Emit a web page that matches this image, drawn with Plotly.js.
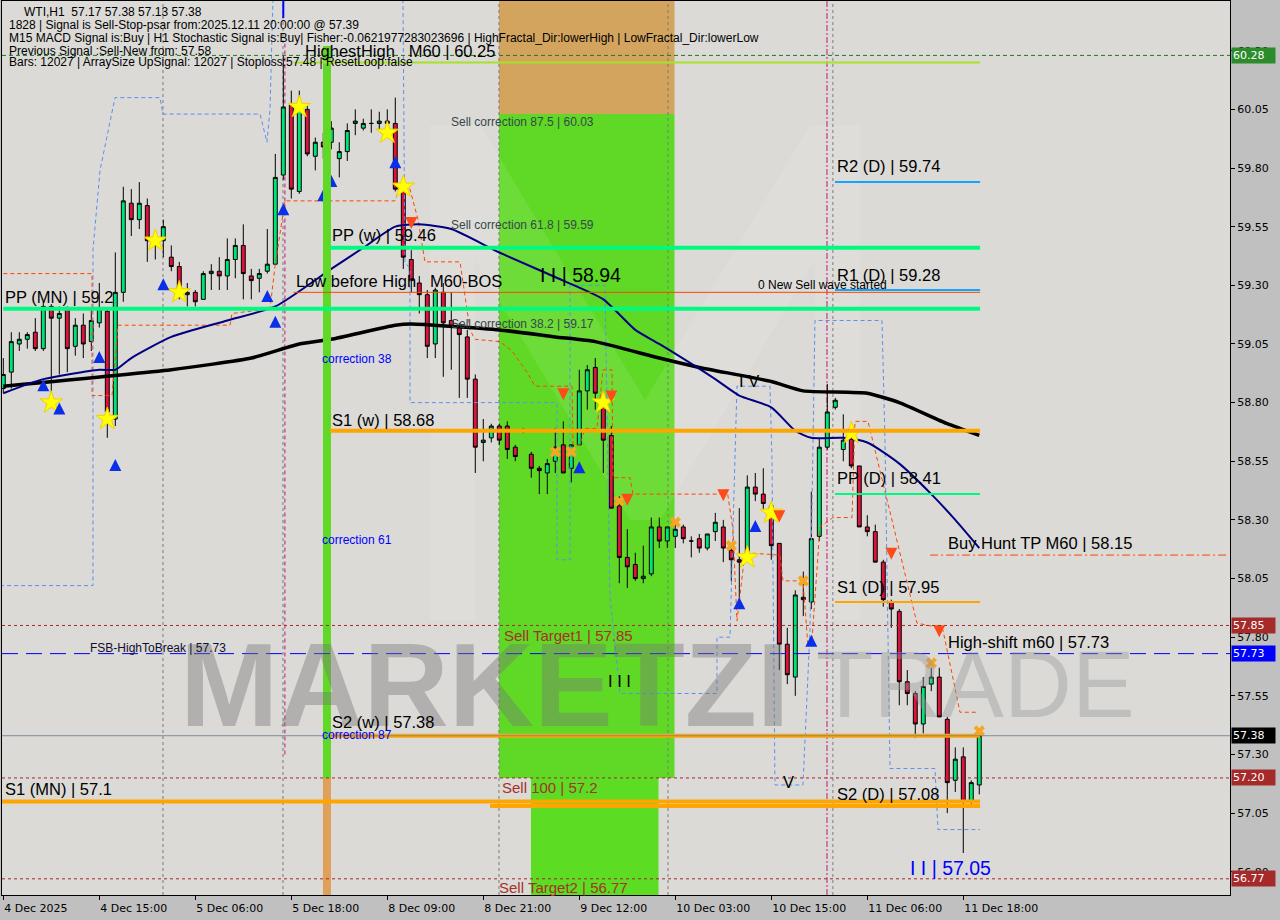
<!DOCTYPE html>
<html>
<head>
<meta charset="utf-8">
<script src="https://cdn.plot.ly/plotly-3.0.1.min.js"></script>
<style>
html,body{margin:0;padding:0;background:#c0c0c0;}
#chart{width:1280px;height:920px;}
</style>
</head>
<body>
<div id="chart"></div>
<script>
// ---------- DATA ----------
const barOpen = [58.86,58.93,59.05,59.07,59.10,59.03,59.21,59.16,59.20,59.04,59.13,59.06,59.14,59.19,58.73,59.27,59.65,59.58,59.64,59.49,
59.49,59.42,59.38,59.26,59.27,59.24,59.35,59.36,59.34,59.41,59.47,59.34,59.33,59.36,59.39,59.77,60.07,59.70,60.05,59.85,
59.91,59.91,59.84,59.87,59.99,59.97,59.99,59.99,60.00,59.99,59.72,59.41,59.31,59.26,59.05,59.27,59.15,59.12,59.08,58.90,
58.63,58.65,58.70,58.70,58.61,58.68,58.58,58.52,58.50,58.55,58.62,58.52,58.62,58.85,58.95,58.78,58.66,58.36,58.14,58.11,
58.05,58.07,58.27,58.21,58.23,58.27,58.21,58.22,58.18,58.25,58.27,58.17,58.13,58.15,58.44,58.41,58.36,58.20,57.77,57.63,
57.97,57.95,58.23,58.61,58.78,58.60,58.65,58.53,58.27,58.25,58.12,57.95,57.91,57.61,57.56,57.43,57.60,57.63,57.45,57.19,
57.29,57.10,57.17];
const barHigh = [58.99,59.10,59.10,59.10,59.16,59.23,59.22,59.21,59.21,59.16,59.18,59.20,59.31,59.20,59.44,59.72,59.71,59.74,59.67,59.51,
59.58,59.47,59.40,59.31,59.28,59.36,59.39,59.42,59.50,59.50,59.56,59.37,59.37,59.54,59.86,60.28,60.13,60.13,60.07,59.93,
59.95,60.00,59.91,59.99,60.05,60.01,60.05,60.04,60.05,60.10,59.72,59.45,59.34,59.28,59.29,59.31,59.27,59.14,59.11,58.92,
58.73,58.71,58.71,58.72,58.62,58.69,58.59,58.53,58.56,58.69,58.72,58.62,58.94,58.96,58.99,58.85,58.70,58.40,58.26,58.16,
58.19,58.31,58.31,58.27,58.30,58.28,58.23,58.24,58.24,58.33,58.30,58.19,58.35,58.49,58.50,58.52,58.37,58.20,57.84,58.00,
58.08,58.42,58.65,58.88,58.82,58.75,58.66,58.53,58.32,58.28,58.13,57.96,57.92,57.66,57.57,57.63,57.67,57.67,57.46,57.33,
57.33,57.19,57.38];
const barLow = [58.84,58.86,59.02,59.03,59.02,59.02,58.81,58.92,58.93,59.00,58.99,59.02,59.12,58.65,58.70,59.23,59.51,59.54,59.40,59.41,
59.42,59.36,59.24,59.21,59.21,59.24,59.28,59.28,59.28,59.33,59.24,59.24,59.27,59.35,59.39,59.75,59.67,59.69,59.85,59.79,
59.84,59.88,59.76,59.83,59.94,59.96,59.95,59.96,59.95,59.70,59.37,59.27,59.18,58.99,58.99,58.91,58.94,58.82,58.82,58.50,
58.55,58.63,58.62,58.56,58.55,58.67,58.48,58.41,58.41,58.50,58.50,58.46,58.62,58.77,58.77,58.50,58.35,58.03,58.01,58.04,
58.03,58.06,58.18,58.18,58.18,58.20,58.14,58.16,58.17,58.21,58.12,58.04,57.92,58.15,58.38,58.34,58.13,57.66,57.60,57.55,
57.89,57.92,58.21,58.60,58.77,58.55,58.52,58.27,58.23,58.12,57.93,57.84,57.51,57.51,57.37,57.39,57.57,57.46,57.05,57.14,
56.88,57.08,57.13];
const barClose = [58.92,59.06,59.07,59.09,59.03,59.21,59.16,59.18,59.03,59.13,59.05,59.15,59.20,58.76,59.27,59.66,59.58,59.65,59.49,59.47,
59.55,59.38,59.27,59.27,59.23,59.35,59.36,59.34,59.41,59.47,59.35,59.32,59.35,59.39,59.76,60.06,59.71,60.05,59.86,59.91,
59.89,59.97,59.87,59.96,60.00,59.99,59.99,60.00,59.99,59.71,59.42,59.32,59.26,59.04,59.28,59.14,59.12,59.09,58.90,58.61,
58.64,58.70,58.64,58.60,58.57,58.68,58.52,58.51,58.54,58.61,58.50,58.62,58.85,58.94,58.84,58.64,58.35,58.14,58.10,58.05,
58.06,58.27,58.21,58.27,58.26,58.22,58.21,58.18,58.24,58.29,58.18,58.13,58.12,58.44,58.41,58.37,58.19,57.77,57.64,57.98,
57.96,58.22,58.61,58.76,58.81,58.64,58.53,58.27,58.25,58.12,57.96,57.92,57.61,57.56,57.43,57.59,57.63,57.46,57.18,57.28,
57.10,57.18,57.38];

// moving averages (bar index, price)
const maSlowIdx = [0,21,31,37,41,49,51,62,69,74,82,87,96,100,108,112,118,122];
const maSlowVal = [58.87,58.94,58.99,59.05,59.07,59.13,59.135,59.11,59.08,59.06,58.99,58.95,58.89,58.85,58.84,58.80,58.71,58.66];
const maFastIdx = [0,5,12,14,16,21,28,34,41,45,49,52,56,62,70,75,79,82,89,92,96,99,101,105,108,112,116,119,122];
const maFastVal = [58.84,58.90,58.94,58.94,58.99,59.08,59.15,59.21,59.37,59.46,59.55,59.56,59.54,59.44,59.32,59.24,59.11,59.05,58.90,58.83,58.78,58.68,58.65,58.65,58.63,58.54,58.41,58.30,58.18];

// stepped stop line (red dashed)
const stopIdx = [0,11.09,11.09,13.59,14.34,28.34,28.59,33.34,33.96,34.84,35.21,48.96,49.59,50.84,51.84,52.71,57.09,58.34,58.96,62.09,63.59,65.46,66.46,71.09,71.21,72.09,72.71,74.21,74.96,76.09,76.21,78.34,78.71,89.59,90.46,91.21,91.71,92.71,97.09,97.46,99.96,100.59,101.09,102.09,103.71,106.09,106.46,108.09,109.59,114.21,117.09,117.46,119.59,121.71];
const stopVal = [59.35,59.35,58.83,58.83,59.13,59.13,59.18,59.20,59.38,59.58,59.66,59.66,59.72,59.71,59.58,59.40,59.40,59.11,59.07,59.06,59.02,58.93,58.87,58.87,58.62,58.62,58.69,58.69,58.94,58.94,58.48,58.48,58.41,58.41,58.43,58.26,57.87,58.16,58.15,58.04,58.04,57.76,57.79,58.27,58.31,58.31,58.72,58.72,58.51,57.86,57.84,57.83,57.48,57.48];

// fractal channel (blue dashed)
const chanIdx = [-0.4,11.21,11.21,12.09,13.96,19.59,19.96,32.09,32.96,33.34,33.71,null,49.96,50.21,50.84,50.84,69.21,69.21,70.84,70.84,75.21,75.84,76.09,77.09,89.21,89.21,90.84,91.71,95.84,96.09,96.46,98.34,99.96,100.84,101.46,109.84,110.21,110.84,116.46,116.84,122.09];
const chanVal = [58.02,58.02,59.45,59.79,60.10,60.10,60.03,60.03,59.91,60.05,60.52,null,60.52,59.40,59.37,58.80,58.80,58.13,58.13,59.30,59.30,57.97,57.89,57.56,57.56,57.80,57.80,58.87,58.87,58.55,57.17,57.17,57.17,57.83,59.15,59.15,58.64,57.24,57.24,56.98,56.98];

// signal markers
const starIdx = [6,13,19,22,37,48,50,75,93,96,106];
const starVal = [58.80,58.73,59.49,59.27,60.06,59.95,59.72,58.80,58.14,58.33,58.67];
const upIdx = [5,7,12,14,20,33,34,35,40,41,49,72,92,94,101];
const upVal = [58.90,58.80,59.02,58.56,59.33,59.28,59.17,59.65,59.71,59.77,59.85,58.55,57.97,58.30,57.81];
const downIdx = [51,70,76,78,90,97,111,117];
const downVal = [59.54,58.81,58.80,58.36,58.38,58.29,58.13,57.80];
const crossIdx = [69,71,77,84,91,100,116,122];
const crossVal = [58.59,58.59,58.38,58.29,58.19,58.04,57.69,57.40];

// axis ticks
const timeTickIdx = [0,12,24,36,48,60,72,84,96,108,120];
const timeTickText = ["4 Dec 2025","4 Dec 15:00","5 Dec 06:00","5 Dec 18:00","8 Dec 09:00","8 Dec 21:00","9 Dec 12:00","10 Dec 03:00","10 Dec 15:00","11 Dec 06:00","11 Dec 18:00"];
const priceTicks = [56.80,57.05,57.30,57.55,57.80,58.05,58.30,58.55,58.80,59.05,59.30,59.55,59.80,60.05,60.30];

// levels
const lvlHighestHigh = 60.25, lvlTop = 60.28, lvlSell875 = 60.03, lvlSell618 = 59.59, lvlSell382 = 59.17;
const lvlR2D = 59.74, lvlPPw = 59.46, lvlR1D = 59.28, lvlBOS = 59.27, lvlPPMN = 59.2;
const lvlS1w = 58.68, lvlPPD = 58.41, lvlBuyHunt = 58.15, lvlS1D = 57.95, lvlTarget1 = 57.85;
const lvlHighShift = 57.73, lvlS2w = 57.38, lvlLast = 57.38, lvlSell100 = 57.20, lvlS1MN = 57.1, lvlS2D = 57.08, lvlTarget2 = 56.77;

// ---------- BUILD ----------
const idx = barOpen.map((_, i) => i);
const Y0 = 56.701, Y1 = 60.512;
const lastI = 122.1;

const traces = [];
traces.push({
  type: 'candlestick', x: idx, open: barOpen, high: barHigh, low: barLow, close: barClose,
  increasing: {line: {color: '#000', width: 1}, fillcolor: '#00e676'},
  decreasing: {line: {color: '#000', width: 1}, fillcolor: '#dc143c'},
  whiskerwidth: 0, hoverinfo: 'skip', showlegend: false
});
traces.push({type:'scatter', mode:'lines', x: chanIdx, y: chanVal, line:{color:'#5b8ff0', width:1, dash:'4px,3px'}, hoverinfo:'skip', showlegend:false, connectgaps:false});
traces.push({type:'scatter', mode:'lines', x: stopIdx, y: stopVal, line:{color:'#ff4500', width:1, dash:'4px,3px'}, hoverinfo:'skip', showlegend:false});
traces.push({type:'scatter', mode:'lines', x: maSlowIdx, y: maSlowVal, line:{color:'#000', width:3.5, shape:'spline', smoothing:0.5}, hoverinfo:'skip', showlegend:false});
traces.push({type:'scatter', mode:'lines', x: maFastIdx, y: maFastVal, line:{color:'#000080', width:2, shape:'spline', smoothing:0.6}, hoverinfo:'skip', showlegend:false});
traces.push({type:'scatter', mode:'markers', x: crossIdx, y: crossVal, marker:{symbol:'x', size:10, color:'#f5a623', line:{width:0}}, hoverinfo:'skip', showlegend:false});
traces.push({type:'scatter', mode:'markers', x: starIdx, y: starVal, marker:{symbol:'star', size:17, color:'#ffff00', line:{color:'#f0d000', width:1}}, hoverinfo:'skip', showlegend:false});
traces.push({type:'scatter', mode:'markers', x: upIdx, y: upVal, marker:{symbol:'arrow-up', size:12, color:'#0a2fe8', line:{width:0}}, hoverinfo:'skip', showlegend:false});
traces.push({type:'scatter', mode:'markers', x: downIdx, y: downVal, marker:{symbol:'arrow-down', size:12, color:'#ff4a1a', line:{width:0}}, hoverinfo:'skip', showlegend:false});

const shapes = [];
function rect(x0, x1, y0, y1, color, layer) {
  shapes.push({type:'rect', xref:'x', yref:'y', x0, x1, y0, y1, fillcolor: color, line:{width:0}, layer: layer || 'below'});
}
function hline(y, x0, x1, color, width, dash, full) {
  shapes.push({type:'line', xref: full ? 'paper' : 'x', yref:'y', x0, x1, y0: y, y1: y, line:{color, width, dash: dash || 'solid'}, layer:'above'});
}
function vline(x, y0, y1, color, width, dash, layer) {
  shapes.push({type:'line', xref:'x', yref:'y', x0: x, x1: x, y0, y1, line:{color, width, dash: dash || 'solid'}, layer: layer || 'below'});
}
// zones
rect(61.96, 83.9, lvlSell875, Y1, '#d3a45e');
rect(61.96, 83.9, lvlSell100, lvlSell875, '#5fd925');
rect(65.96, 81.9, Y0, lvlSell100, '#5cdc22');
// faint logo watermark
shapes.push({type:'path', xref:'x', yref:'y', layer:'below', line:{width:0}, fillcolor:'rgba(255,255,255,0.09)',
  path:'M53.34,59.983 L59.59,59.983 L80.21,58.811 L100.84,59.983 L107.09,59.983 L107.09,57.873 L101.46,57.873 L101.46,59.408 L82.09,58.30 L78.34,58.30 L58.96,59.408 L58.96,57.873 L53.34,57.873 Z'});
// vertical separators
vline(19.96, Y0, Y1, '#7a7a7a', 1, '3px,3px');
vline(34.96, Y0, Y1, '#7a7a7a', 1, '3px,3px');
vline(61.96, Y0, Y1, '#7a7a7a', 1, '3px,3px');
vline(83.09, Y0, Y1, '#7a7a7a', 1, '3px,3px');
vline(102.96, Y0, Y1, '#c0187a', 1, '6px,2px,2px,2px');
vline(103.7, Y0, Y1, '#7a7a7a', 1, '3px,3px');
vline(35.2, 57.3, 60.33, '#c0187a', 1, '4px,3px');
// bar with green/orange
rect(39.96, 40.96, lvlSell100, 60.32, '#5fd925', 'above');
rect(39.96, 40.96, Y0, lvlSell100, '#dfa05a', 'above');
// horizontal levels
hline(lvlTop, 0, 1, '#1f7a1f', 1, '4px,3px', true);
hline(lvlHighestHigh, 36.3, lastI, '#a6e22a', 2);
hline(lvlR2D, 103.96, lastI, '#12a4ff', 2);
hline(lvlPPw, 40.84, lastI, '#00fa80', 4);
hline(lvlR1D, 103.96, lastI, '#12a4ff', 2);
hline(lvlBOS, 36.3, lastI, '#ff4500', 1);
hline(lvlPPMN, 0, lastI, '#00fa80', 4);
hline(lvlS1w, 40.84, lastI, '#ffa500', 4);
hline(lvlPPD, 103.96, lastI, '#00fa80', 2);
hline(lvlBuyHunt, 115.85, 153.2, '#ff4500', 1, '8px,3px,2px,3px');
hline(lvlS1D, 103.96, lastI, '#ffa500', 2);
hline(lvlTarget1, 0, 1, '#a52a2a', 1, '3px,3px', true);
hline(lvlHighShift, 0, 1, '#0000ff', 1, '16px,8px', true);
hline(lvlS2w, 40.84, lastI, '#ffa500', 4);
hline(lvlLast, 0, 1, '#7f8c99', 1, 'solid', true);
hline(lvlSell100, 0, 1, '#a52a2a', 1, '3px,3px', true);
hline(lvlS1MN, -0.5, lastI, '#ffa500', 4);
hline(lvlS2D, 60.84, lastI, '#ffa500', 4);
hline(lvlTarget2, 0, 1, '#a52a2a', 1, '3px,3px', true);
shapes.push({type:'line', xref:'x', yref:'y', x0:35, x1:35, y0:60.44, y1:Y1, line:{color:'#0000ff', width:2}, layer:'above'});

const FONT = 'Liberation Sans, Arial, sans-serif';
const ann = [];
function txt(x, y, text, size, color, extra) {
  ann.push(Object.assign({xref:'x', yref:'y', x, y, text, showarrow:false, xanchor:'left', yanchor:'middle',
    font:{family: FONT, size, color: color || '#000'}}, extra || {}));
}
const NB = '\u00a0';
// watermark (drawn first, under other labels)
txt(21.8, 57.596, '<b>MARKETZI</b>', 118, 'rgba(120,120,120,0.42)');
txt(101.4, 57.60, 'TRADE', 94, 'rgba(150,150,150,0.40)');
// header texts
txt(2.3, 60.463, 'WTI,H1' + NB + NB + '57.17 57.38 57.13 57.38', 12);
txt(0.45, 60.408, '1828 | Signal is Sell-Stop-psar from:2025.12.11 20:00:00 @ 57.39', 12);
txt(0.45, 60.353, 'M15 MACD Signal is:Buy | H1 Stochastic Signal is:Buy| Fisher:-0.0621977283023696 | HighFractal_Dir:lowerHigh | LowFractal_Dir:lowerLow', 12);
txt(0.45, 60.301, 'Previous Signal :Sell-New from: 57.58', 12);
txt(0.45, 60.250, 'Bars: 12027 | ArraySize UpSignal: 12027 | Stoploss:57.48 | ResetLoop:false', 12);
// labels
txt(37.45, 60.30, 'HighestHigh' + NB + NB + NB + 'M60 | 60.25', 16.5);
txt(55.7, 59.996, 'Sell correction 87.5 | 60.03', 12, '#37474a');
txt(55.7, 59.557, 'Sell correction 61.8 | 59.59', 12, '#37474a');
txt(55.7, 59.135, 'Sell correction 38.2 | 59.17', 12, '#37474a');
txt(103.96, 59.808, 'R2 (D) | 59.74', 16.5);
txt(40.84, 59.514, 'PP (w) | 59.46', 16.5);
txt(103.96, 59.344, 'R1 (D) | 59.28', 16.5);
txt(66.8, 59.344, 'I I | 58.94', 19.5);
txt(36.34, 59.32, 'Low before High' + NB + NB + NB + 'M60-BOS', 16.5);
txt(94.1, 59.30, '0 New Sell wave started', 12);
txt(-0.05, 59.25, 'PP (MN) | 59.2', 16.5);
txt(39.6, 58.986, 'correction 38', 12, '#0000ff');
txt(91.7, 58.892, 'I V', 16.5);
txt(40.84, 58.726, 'S1 (w) | 58.68', 16.5);
txt(103.96, 58.478, 'PP (D) | 58.41', 16.5);
txt(39.6, 58.214, 'correction 61', 12, '#0000ff');
txt(117.8, 58.201, 'Buy Hunt TP M60 | 58.15', 16.5);
txt(103.96, 58.014, 'S1 (D) | 57.95', 16.5);
txt(62.3, 57.809, 'Sell Target1 | 57.85', 15, '#a8302a');
txt(117.8, 57.78, 'High-shift m60 | 57.73', 16.5);
txt(10.6, 57.754, 'FSB-HighToBreak | 57.73', 12, '#101030');
txt(75.3, 57.613, 'I I I', 16.5);
txt(40.84, 57.438, 'S2 (w) | 57.38', 16.5);
txt(39.6, 57.383, 'correction 87', 12, '#0000ff');
txt(97.2, 57.183, 'V', 16.5);
txt(62.1, 57.161, 'Sell 100 | 57.2', 15, '#a8302a');
txt(-0.05, 57.153, 'S1 (MN) | 57.1', 16.5);
txt(103.96, 57.131, 'S2 (D) | 57.08', 16.5);
txt(113.1, 56.816, 'I I | 57.05', 19.5, '#0000ff');
txt(61.7, 56.735, 'Sell Target2 | 56.77', 15, '#a8302a');
// right price boxes
function box(y, text, bg) {
  ann.push({xref:'paper', yref:'y', x:1, y, xanchor:'left', yanchor:'middle', xshift:1, text, showarrow:false,
    bgcolor:bg, borderpad:1, width:41, align:'left', font:{family:'DejaVu Sans, sans-serif', size:11, color:'#ffffff'}});
}
box(lvlTop, '60.28', '#2c8c2c');
box(lvlTarget1, '57.85', '#a52a2a');
box(lvlHighShift, '57.73', '#0000ff');
box(lvlLast, '57.38', '#000000');
box(lvlSell100, '57.20', '#a52a2a');
box(lvlTarget2, '56.77', '#a52a2a');

const layout = {
  width: 1280, height: 920,
  margin: {l: 2, r: 50, t: 1, b: 25, pad: 0},
  paper_bgcolor: '#c0c0c0', plot_bgcolor: '#dbdad7',
  showlegend: false, hovermode: false,
  xaxis: {range: [-0.1625, 153.34], showgrid: false, zeroline: false, rangeslider: {visible: false},
    tickvals: timeTickIdx, ticktext: timeTickText, ticks: 'outside', ticklen: 4, tickcolor: '#000',
    ticklabelposition: 'outside right', ticklabelstandoff: 3, tickfont: {family: 'DejaVu Sans, sans-serif', size: 11, color: '#000'},
    showline: true, linecolor: '#000', linewidth: 1, mirror: true, fixedrange: true},
  yaxis: {range: [Y0, Y1], side: 'right', showgrid: false, zeroline: false,
    tickvals: priceTicks, tickformat: '.2f', ticks: 'outside', ticklen: 4, tickcolor: '#000',
    tickfont: {family: 'DejaVu Sans, sans-serif', size: 11, color: '#000'},
    showline: true, linecolor: '#000', linewidth: 1, mirror: true, fixedrange: true},
  shapes, annotations: ann
};
Plotly.newPlot('chart', traces, layout, {staticPlot: true, displayModeBar: false});
</script>
</body>
</html>
